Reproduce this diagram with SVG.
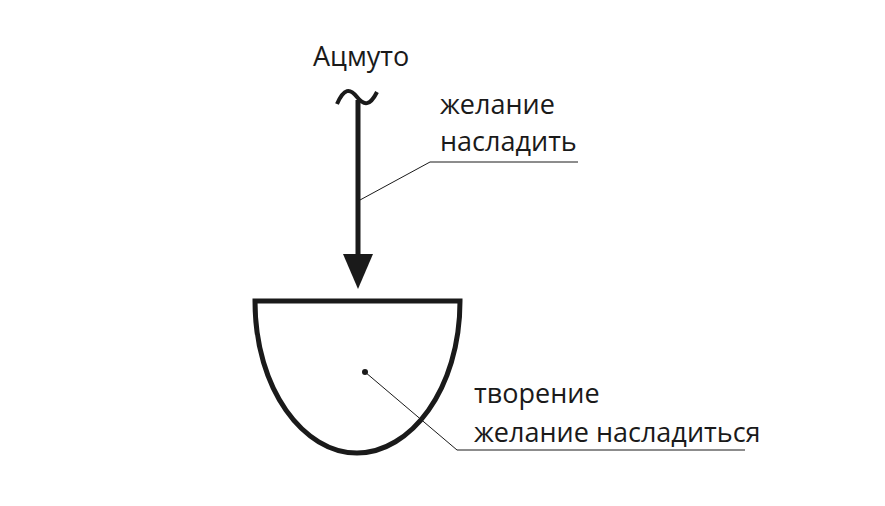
<svg xmlns="http://www.w3.org/2000/svg" width="885" height="506" viewBox="0 0 885 506">
<style>
text{font-family:"Open Sans","Liberation Sans",sans-serif;font-size:27px;fill:#1a1a1a}
.thin{stroke:#1a1a1a;stroke-width:1;fill:none}
</style>
<rect width="885" height="506" fill="#fff"/>
<g id="connectors">
<path d="M337,104 C344,88 350,88 357,97 C364,106 370,106 377,92" fill="none" stroke="#1a1a1a" stroke-width="4"/>
<line x1="358" y1="100" x2="358" y2="258" stroke="#1a1a1a" stroke-width="5"/>
<polygon points="343,254 373,254 358,289" fill="#1a1a1a"/>
<polyline class="thin" points="360,200 430,162 578,162"/>
<polyline class="thin" points="365,372 457,450 745,450"/>
<circle cx="365" cy="372" r="3" fill="#1a1a1a"/>
</g>
<g id="atzmut"><text x="313" y="66">Ацмуто</text></g>
<g id="desire-give"><text x="440" y="114">желание</text><text x="440" y="151">насладить</text></g>
<g id="vessel"><path d="M255,301 L460,301 C460,390 410,453 357,453 C304,453 255,390 255,301 Z" fill="none" stroke="#1a1a1a" stroke-width="5"/></g>
<g id="creation"><text x="474" y="403">творение</text><text x="474" y="442">желание насладиться</text></g>
</svg>
